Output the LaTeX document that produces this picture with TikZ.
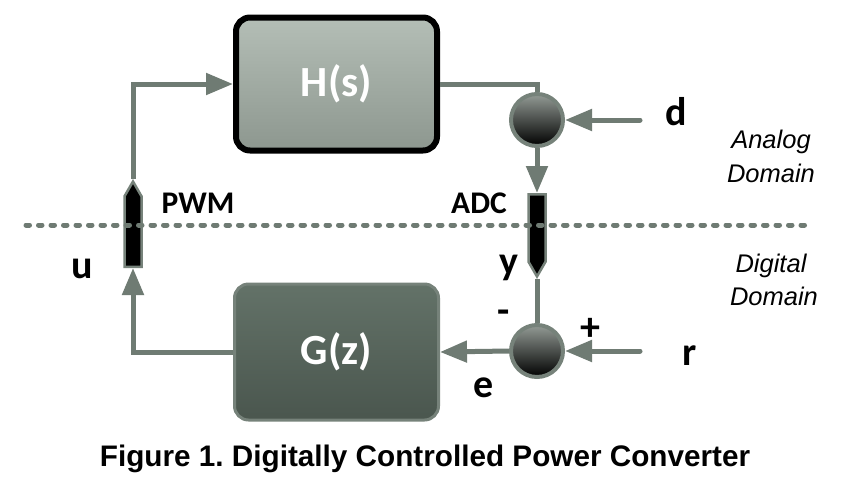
\documentclass[tikz,border=0pt]{standalone}
\usepackage{fontspec}
\setmainfont{Carlito}
\newfontfamily\capfont{Liberation Sans}
\usetikzlibrary{arrows.meta,shapes.symbols,shadows}
\definecolor{lineg}{HTML}{6F7B73}
\definecolor{hTop}{HTML}{B4BEB6}
\definecolor{hBot}{HTML}{8D978F}
\definecolor{gTop}{HTML}{637268}
\definecolor{gBot}{HTML}{4A564E}
\definecolor{gEdge}{HTML}{76827A}
\definecolor{cTop}{HTML}{939B95}
\definecolor{cMid}{HTML}{3C423E}
\frenchspacing
\begin{document}
\begin{tikzpicture}[x=1pt,y=-1pt,
  conn/.style={draw=lineg, line width=5pt},
  arr/.style={conn, -{Triangle[length=27pt,width=21pt]}},
  hbox/.style={rectangle, rounded corners=14pt, draw=black, line width=6pt,
    top color=hTop, bottom color=hBot, minimum width=201pt, minimum height=133pt,
    font=\bfseries\fontsize{43}{43}\selectfont, text=white,
    drop shadow={shadow xshift=2pt, shadow yshift=-2pt, fill=gray!55, opacity=1}},
  gbox/.style={rectangle, rounded corners=14pt, draw=gEdge, line width=3pt,
    top color=gTop, bottom color=gBot, minimum width=204pt, minimum height=136pt,
    font=\bfseries\fontsize{43}{43}\selectfont, text=white},
  sumc/.style={circle, draw=gEdge, line width=4pt, top color=cTop, middle color=cMid,
    bottom color=black, minimum size=52pt, inner sep=0pt},
  conv/.style={signal, signal from=nowhere, signal pointer angle=60, fill=black,
    draw=gEdge, line width=2.5pt, minimum width=17pt, inner sep=0pt},
  lbl/.style={font=\bfseries\fontsize{31.5}{31.5}\selectfont, anchor=base},
  sym/.style={font=\bfseries\fontsize{40}{40}\selectfont, anchor=base},
  dom/.style={font=\capfont\itshape\fontsize{25.5}{25.5}\selectfont, anchor=base},
  capt/.style={font=\capfont\bfseries\fontsize{29.7}{29.7}\selectfont, anchor=base}
]
\useasboundingbox (0,0) rectangle (841,491);

% blocks
\node[hbox] (H) at (336.5,84) {H(s)};
\node[gbox] (G) at (336.5,352) {G(z)};
\node[sumc] (s1) at (537,120) {};
\node[sumc] (s2) at (537,351) {};
\node[conv, signal to=north, minimum height=70.5pt] (pwm) at (133,231.5) {};
\node[conv, signal to=south, minimum height=67.5pt] (adc) at (537,228) {};

\coordinate (dstart) at (640,120);
\coordinate (rstart) at (640,351);
\coordinate (dl) at (26,225);
\coordinate (dr) at (806,225);

% connectors
\draw[arr] (G.west) -| (pwm.south);
\draw[arr] (pwm.north) |- (H.west);
\draw[conn] (H.east) -| (s1.north);
\draw[arr, line cap=round] (dstart) -- (s1.east);
\draw[arr] (s1.south) -- (adc.north);
\draw[conn] (adc.south) -- (s2.north);
\draw[arr, line cap=round] (rstart) -- (s2.east);
\draw[arr] (s2.west) -- (G.east);

% domain boundary
\draw[lineg, line width=5pt, line cap=round, dash pattern=on 3.5pt off 9pt] (dl) -- (dr);

% labels
\node[lbl] (lpwm) at (198,213) {PWM};
\node[lbl] (ladc) at (479,213) {ADC};
\node[sym] (lu) at (82,278) {u};
\node[sym] (ly) at (509,274) {y};
\node[sym] (lminus) at (504,323) {-};
\node[sym] (lplus) at (590,340) {+};
\node[sym] (le) at (484,397) {e};
\node[sym] (lr) at (690,365) {r};
\node[sym] (ld) at (676,125) {d};
\node[dom] (an1) at (771,148) {Analog};
\node[dom] (an2) at (771,182) {Domain};
\node[dom] (dg1) at (771,272) {Digital};
\node[dom] (dg2) at (774,305) {Domain};
\node[capt] (cap) at (425,466) {Figure 1. Digitally Controlled Power Converter};
\end{tikzpicture}
\end{document}
